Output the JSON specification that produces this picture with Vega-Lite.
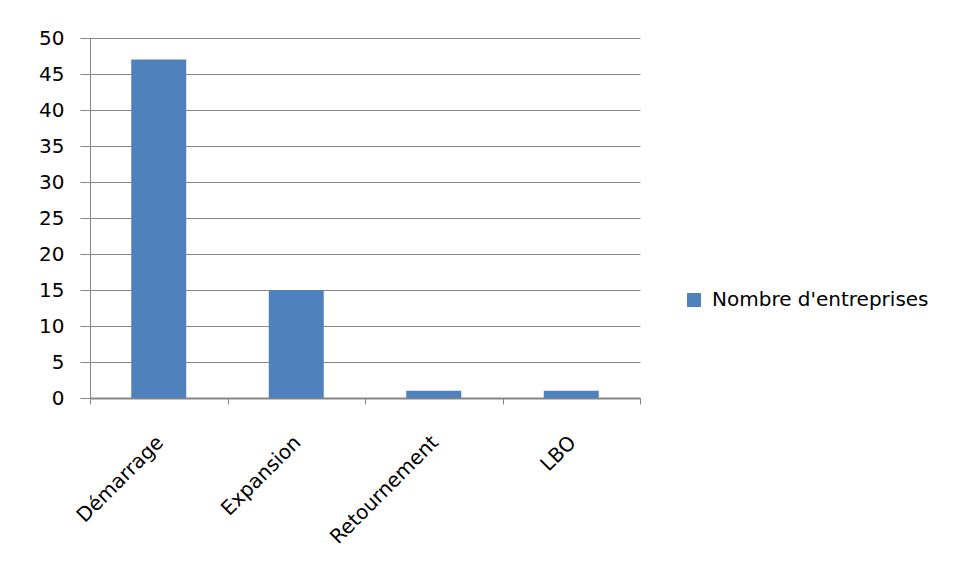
{
  "$schema": "https://vega.github.io/schema/vega-lite/v6.json",
  "width": 550,
  "height": 360,
  "autosize": "none",
  "padding": {"left": 90, "top": 38, "right": 317, "bottom": 183},
  "background": "#ffffff",
  "config": {"view": {"stroke": null}, "font": "DejaVu Sans"},
  "data": {"values": [
    {"stade": "Démarrage", "n": 47},
    {"stade": "Expansion", "n": 15},
    {"stade": "Retournement", "n": 1},
    {"stade": "LBO", "n": 1}
  ]},
  "mark": {"type": "bar", "width": {"band": 0.4}},
  "encoding": {
    "x": {
      "field": "stade", "type": "nominal", "sort": null,
      "scale": {"paddingInner": 0, "paddingOuter": 0},
      "axis": {
        "title": null, "labelAngle": -45, "tickBand": "extent", "tickSize": 6,
        "tickColor": "#868686", "domainColor": "#868686", "domainWidth": 2,
        "labelFontSize": 20, "labelColor": "#000000", "labelFont": "DejaVu Sans",
        "labelPadding": 28, "labelOffset": -6
      }
    },
    "y": {
      "field": "n", "type": "quantitative",
      "scale": {"domain": [0, 50]},
      "axis": {
        "title": null, "values": [0, 5, 10, 15, 20, 25, 30, 35, 40, 45, 50],
        "grid": true, "gridColor": "#868686", "gridOpacity": 1,
        "tickSize": 10, "tickColor": "#868686", "domainColor": "#868686",
        "labelFontSize": 20, "labelColor": "#000000", "labelFont": "DejaVu Sans",
        "labelPadding": 16
      }
    },
    "color": {
      "datum": "Nombre d'entreprises", "type": "nominal",
      "scale": {"range": ["#4F81BD"]},
      "legend": {
        "title": null, "orient": "none", "legendX": 594, "legendY": 252,
        "symbolType": "square", "symbolSize": 196, "symbolStrokeWidth": 0,
        "labelFontSize": 20, "labelColor": "#000000", "labelFont": "DejaVu Sans",
        "labelOffset": 8, "padding": 0, "labelLimit": 0
      }
    }
  }
}
